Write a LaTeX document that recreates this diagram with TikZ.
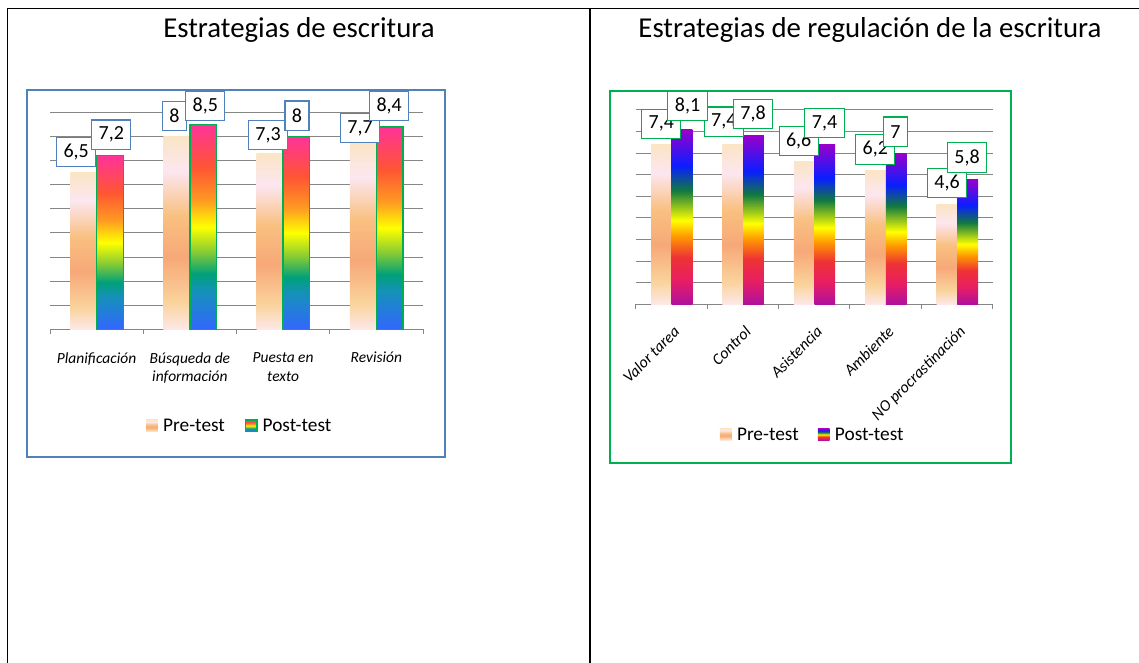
\documentclass[tikz,border=0pt]{standalone}
\usepackage{fontspec}
\setmainfont{Carlito}
\usepackage{tikz}
\usetikzlibrary{positioning}

\definecolor{frameblue}{RGB}{79,129,189}
\definecolor{framegreen}{RGB}{0,176,80}
\definecolor{gridgray}{RGB}{134,134,134}
% peach (pre-test)
\definecolor{pA}{RGB}{253,232,232}
\definecolor{pB}{RGB}{250,211,156}
\definecolor{pC}{RGB}{247,168,120}
\definecolor{pD}{RGB}{249,192,128}
\definecolor{pE}{RGB}{252,230,240}
\definecolor{pF}{RGB}{251,229,197}
% rainbow (post-test, left)
\definecolor{rA}{RGB}{51,102,255}
\definecolor{rB}{RGB}{20,146,184}
\definecolor{rC}{RGB}{0,160,122}
\definecolor{rD}{RGB}{136,204,51}
\definecolor{rE}{RGB}{255,255,0}
\definecolor{rF}{RGB}{255,153,34}
\definecolor{rG}{RGB}{255,85,51}
\definecolor{rH}{RGB}{255,51,153}
% rainbow II (post-test, right)
\definecolor{vA}{RGB}{176,16,158}
\definecolor{vB}{RGB}{232,30,98}
\definecolor{vC}{RGB}{238,51,51}
\definecolor{vD}{RGB}{255,154,0}
\definecolor{vE}{RGB}{255,255,0}
\definecolor{vF}{RGB}{17,122,63}
\definecolor{vG}{RGB}{10,30,255}
\definecolor{vH}{RGB}{153,0,204}

\pgfdeclareverticalshading{peach}{100bp}{color(0bp)=(pA); color(25bp)=(pA);
  color(32bp)=(pB); color(43.5bp)=(pC); color(54.5bp)=(pD); color(66bp)=(pE);
  color(75bp)=(pF); color(100bp)=(pF)}
\pgfdeclareverticalshading{rainbowA}{100bp}{color(0bp)=(rA); color(25bp)=(rA);
  color(34.5bp)=(rB); color(38.5bp)=(rC); color(44bp)=(rD); color(50bp)=(rE);
  color(56.5bp)=(rF); color(64.5bp)=(rG); color(75bp)=(rH); color(100bp)=(rH)}
\pgfdeclareverticalshading{rainbowB}{100bp}{color(0bp)=(vA); color(25bp)=(vA);
  color(32bp)=(vB); color(38.5bp)=(vC); color(44.5bp)=(vD); color(49bp)=(vE);
  color(57.5bp)=(vF); color(64.5bp)=(vG); color(75bp)=(vH); color(100bp)=(vH)}

\begin{document}
\begin{tikzpicture}[x=0.75pt,y=-0.75pt,
    title/.style = {anchor=base, inner sep=0, font=\fontsize{21.6}{26}\selectfont},
    grid/.style = {draw=gridgray, line width=0.75pt},
    lbl/.style = {draw, fill=white, line width=0.8pt, inner xsep=5.2pt, inner ysep=0pt,
        minimum height=22pt, font=\fontsize{15}{18}\selectfont},
    lblL/.style = {lbl, draw=frameblue},
    lblR/.style = {lbl, draw=framegreen},
    cat/.style = {inner sep=0, align=center, font=\fontsize{11.6}{14.2}\selectfont\itshape},
    catR/.style = {cat, font=\fontsize{12}{14.4}\selectfont\itshape, rotate=45,
        anchor=north east, text height=9pt, text depth=3pt},
    key/.style = {minimum size=8.8pt, inner sep=0},
    legtxt/.style = {inner sep=0, font=\fontsize{14.5}{17}\selectfont},
    node distance={3.6pt}]
\useasboundingbox (0,0) rectangle (1139,663);

% table lines
\draw[line width=1.2pt] (7.5,663) -- (7.5,8.5) -- (1139,8.5);
\draw[line width=1.2pt] (590,8.5) -- (590,663);

\node[title] (titleL) at (299,37.3) {Estrategias de escritura};
\node[title] (titleR) at (870,37.3) {Estrategias de regulación de la escritura};

% left chart
\draw[frameblue, line width=1.25pt] (27,90) rectangle (445,457);
\foreach \k in {1,...,9}
  \draw[grid] (50,{329.3-24.1*\k}) -- (423,{329.3-24.1*\k});
\draw[grid] (50,329.3) -- (423,329.3);
\foreach \i in {0,...,4}
  \draw[grid] ({50+93.25*\i},329.3) -- ++(0,4.5);
\foreach \i/\a/\b in {0/6.5/7.2, 1/8/8.5, 2/7.3/8, 3/7.7/8.4} {
  \shade[shading=peach] ({70+93.25*\i},329.3) rectangle ({96.6+93.25*\i},{329.3-24.1*\a});
  \shadedraw[shading=rainbowA, draw=framegreen, line width=1pt]
    ({96.6+93.25*\i},329.3) rectangle ({123.2+93.25*\i},{329.3-24.1*\b});
}
\node[lblL] (a1) at (76.2,152.3) {6,5};
\node[lblL] (a2) at (174.5,116.2) {8};
\node[lblL] (a3) at (268,135) {7,3};
\node[lblL] (a4) at (360,128.3) {7,7};
\node[lblL] (b1) at (111.3,134.7) {7,2};
\node[lblL] (b2) at (205.3,106.2) {8,5};
\node[lblL] (b3) at (297,115.7) {8};
\node[lblL] (b4) at (389.2,106.2) {8,4};

\node[cat, anchor=north] (c1) at (96.6,352) {Planificación};
\node[cat, anchor=north] (c2) at (189.9,352) {Búsqueda de\\información};
\node[cat, anchor=north] (c3) at (283.1,352) {Puesta en\\texto};
\node[cat, anchor=north] (c4) at (376.4,352) {Revisión};

\node[key, shading=peach] (kpreL) at (152,425.8) {};
\node[legtxt, right=of kpreL] (tpreL) {Pre-test};
\node[key, shading=rainbowA, draw=framegreen, line width=1pt, right=14.5pt of tpreL] (kpostL) {};
\node[legtxt, right=of kpostL] (tpostL) {Post-test};

% right chart
\draw[framegreen, line width=1.5pt] (610,91) rectangle (1010.7,463.3);
\foreach \k in {1,...,9}
  \draw[grid] (635.7,{304.3-21.6*\k}) -- (992.7,{304.3-21.6*\k});
\draw[grid] (635.7,304.3) -- (992.7,304.3);
\foreach \i in {0,...,5}
  \draw[grid] ({635.7+71.4*\i},304.3) -- ++(0,4.5);
\foreach \i/\a/\b in {0/7.4/8.1, 1/7.4/7.8, 2/6.6/7.4, 3/6.2/7, 4/4.6/5.8} {
  \shade[shading=peach] ({651+71.4*\i},304.3) rectangle ({671.7+71.4*\i},{304.3-21.6*\a});
  \shade[shading=rainbowB] ({671.7+71.4*\i},304.3) rectangle ({692.4+71.4*\i},{304.3-21.6*\b});
}
\node[lblR] (d1) at (661.3,123.8) {7,4};
\node[lblR] (d2) at (723.8,121.7) {7,4};
\node[lblR] (d3) at (798.7,140.8) {6,6};
\node[lblR] (d4) at (875.3,149.5) {6,2};
\node[lblR] (d5) at (947,183.3) {4,6};
\node[lblR] (e1) at (687.5,105.8) {8,1};
\node[lblR] (e2) at (753,114.3) {7,8};
\node[lblR] (e3) at (824.5,123.3) {7,4};
\node[lblR] (e4) at (895.5,131.7) {7};
\node[lblR] (e5) at (967,157.5) {5,8};

\node[catR] (f1) at (672,324) {Valor tarea};
\node[catR] (f2) at (743.4,324) {Control};
\node[catR] (f3) at (814.8,324) {Asistencia};
\node[catR] (f4) at (886.2,324) {Ambiente};
\node[catR] (f5) at (957.6,324) {NO procrastinación};

\node[key, shading=peach] (kpreR) at (725.8,434.2) {};
\node[legtxt, right=of kpreR] (tpreR) {Pre-test};
\node[key, shading=rainbowB, right=14pt of tpreR] (kpostR) {};
\node[legtxt, right=of kpostR] (tpostR) {Post-test};
\end{tikzpicture}
\end{document}
